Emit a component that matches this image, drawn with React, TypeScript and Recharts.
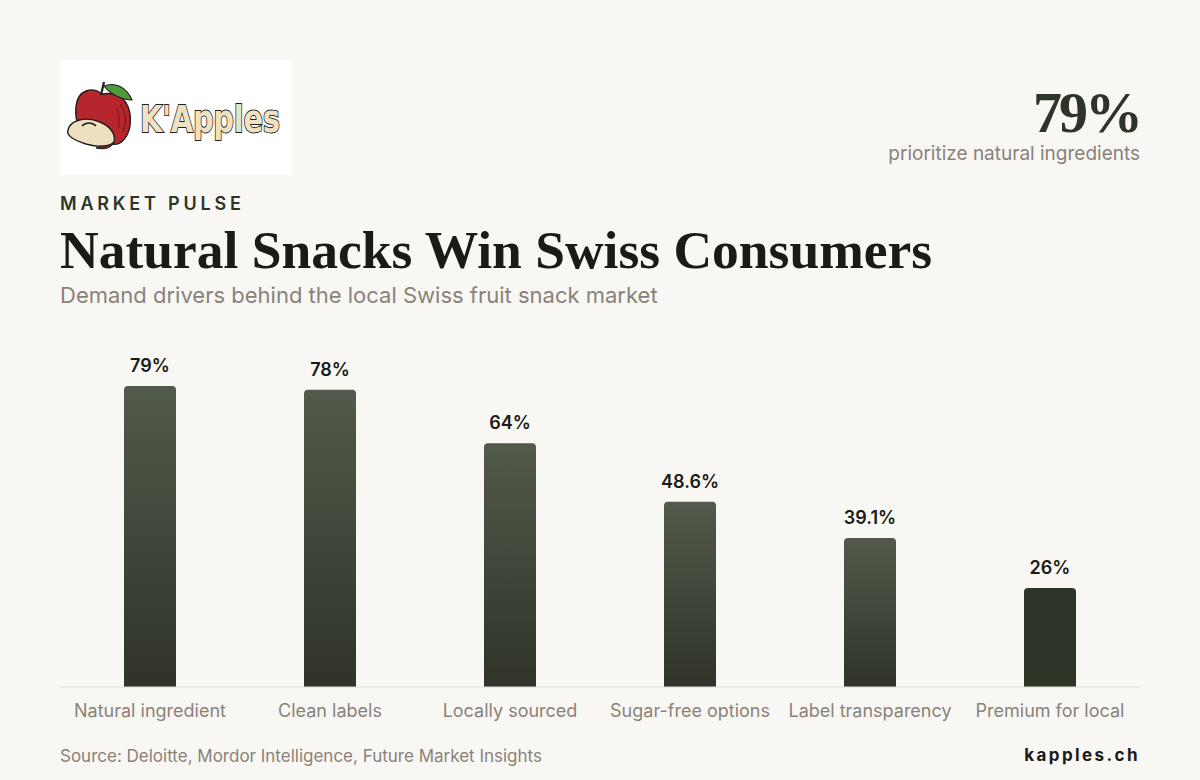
import { BarChart, Bar, XAxis, YAxis, Cell, LabelList } from 'recharts';

const categories = [
  'Natural ingredient',
  'Clean labels',
  'Locally sourced',
  'Sugar-free options',
  'Label transparency',
  'Premium for local',
];
const shares = [79, 78, 64, 48.6, 39.1, 26];

const data = categories.map((name, i) => ({ name, value: shares[i] }));

const BG = '#f8f7f3';
const INK = '#1b1a16';
const MUTED = '#8a827a';
const DARK_GREEN = '#2c3527';
const SERIF = "'Liberation Serif', 'DejaVu Serif', serif";

function Logo() {
  return (
    <div style={{ position: 'absolute', left: 60, top: 60, width: 232, height: 115, background: '#ffffff' }}>
      <svg width={232} height={115}>
        {/* apple body */}
        <path
          d="M42 34 C 32 26, 18 30, 16 46 C 14 62, 22 80, 36 84 C 42 86, 48 84, 52 84 C 60 86, 68 78, 70 66 C 72 50, 66 30, 42 34 Z"
          fill="#b8262d"
          stroke="#1f1f1f"
          strokeWidth={1.4}
        />
        <path d="M60 44 C 66 52, 67 62, 63 72" stroke="#6e1a1e" strokeWidth={1.2} fill="none" />
        <path d="M56 48 C 60 54, 60 62, 58 68" stroke="#6e1a1e" strokeWidth={1} fill="none" />
        {/* stem + leaf */}
        <path d="M41 35 L 44 22" stroke="#1f1f1f" strokeWidth={2.2} fill="none" />
        <path d="M44 26 C 54 22, 66 26, 72 40 C 62 40, 50 34, 44 26 Z" fill="#4f9a3a" stroke="#1f1f1f" strokeWidth={1.2} />
        {/* slice */}
        <path
          d="M8 70 C 10 60, 26 56, 40 62 C 50 66, 56 74, 54 82 C 50 88, 36 87, 26 84 C 14 80, 6 76, 8 70 Z"
          fill="#ede0c2"
          stroke="#1f1f1f"
          strokeWidth={1.4}
        />
        <path d="M54 82 C 52 88, 44 90, 36 88 L 40 86 C 48 86, 52 84, 54 82 Z" fill="#6e1a1c" stroke="#1f1f1f" strokeWidth={1} />
        <path d="M22 66 C 26 62, 32 62, 36 66" stroke="#1f1f1f" strokeWidth={1.6} fill="none" />
        <g transform="translate(80 72) scale(1 1.3)">
          <text
            x={0}
            y={0}
            fontFamily="'DejaVu Sans', sans-serif"
            fontWeight={700}
            fontSize={29}
            fill="#efe2c3"
            stroke="#222"
            strokeWidth={1.4}
            paintOrder="stroke"
            letterSpacing={-0.3}
          >
            K'Apples
          </text>
        </g>
      </svg>
    </div>
  );
}

export default function App() {
  return (
    <div
      style={{
        position: 'fixed',
        left: 0,
        top: 0,
        width: 1200,
        height: 780,
        background: BG,
        fontFamily: 'Inter, sans-serif',
        overflow: 'hidden',
      }}
    >
      <Logo />

      {/* headline stat */}
      <div
        style={{
          position: 'absolute',
          right: 60,
          top: 80,
          textAlign: 'right',
          fontFamily: SERIF,
          fontWeight: 700,
          fontSize: 58,
          lineHeight: '66px',
          color: DARK_GREEN,
          letterSpacing: -3,
        }}
      >
        79%
      </div>
      <div
        style={{ position: 'absolute', right: 60, top: 142, fontSize: 19, color: MUTED, lineHeight: '24px' }}
      >
        prioritize natural ingredients
      </div>

      <div
        style={{
          position: 'absolute',
          left: 60,
          top: 193,
          fontSize: 18,
          fontWeight: 600,
          letterSpacing: 3.8,
          color: DARK_GREEN,
          lineHeight: '22px',
        }}
      >
        MARKET PULSE
      </div>
      <div
        style={{
          position: 'absolute',
          left: 60,
          top: 218,
          fontFamily: SERIF,
          fontWeight: 700,
          fontSize: 53.5,
          lineHeight: '64px',
          color: INK,
        }}
      >
        Natural Snacks Win Swiss Consumers
      </div>
      <div
        style={{ position: 'absolute', left: 60, top: 281, fontSize: 22, color: MUTED, lineHeight: '28px' }}
      >
        Demand drivers behind the local Swiss fruit snack market
      </div>

      <div style={{ position: 'absolute', left: 60, top: 290 }}>
        <BarChart width={1080} height={437} data={data} margin={{ top: 16, right: 0, bottom: 0, left: 0 }}>
          <defs>
            <linearGradient id="barFade" x1="0" y1="0" x2="0" y2="1">
              <stop offset="0%" stopColor="#525a4b" />
              <stop offset="100%" stopColor="#2f3329" />
            </linearGradient>
          </defs>
          <YAxis hide domain={[0, 100]} />
          <XAxis
            dataKey="name"
            height={40}
            tickLine={false}
            tickSize={0}
            tickMargin={17}
            axisLine={{ stroke: '#e3e0d4', strokeWidth: 1 }}
            tick={{ fill: MUTED, fontSize: 18, fontFamily: 'Inter, sans-serif' }}
            interval={0}
          />
          <Bar dataKey="value" barSize={52} radius={[4, 4, 0, 0]} isAnimationActive={false}>
            {data.map((d, i) => (
              <Cell key={d.name} fill={i === data.length - 1 ? DARK_GREEN : 'url(#barFade)'} />
            ))}
            <LabelList
              dataKey="value"
              position="top"
              offset={14}
              formatter={(v: any) => `${v}%`}
              style={{ fill: INK, fontSize: 18, fontWeight: 600, fontFamily: 'Inter, sans-serif' }}
            />
          </Bar>
        </BarChart>
      </div>

      <div style={{ position: 'absolute', left: 60, top: 745, fontSize: 17, color: MUTED, lineHeight: '22px' }}>
        Source: Deloitte, Mordor Intelligence, Future Market Insights
      </div>
      <div
        style={{
          position: 'absolute',
          right: 60,
          top: 743,
          fontSize: 17,
          fontWeight: 700,
          letterSpacing: 2.4,
          color: INK,
          lineHeight: '24px',
        }}
      >
        kapples.ch
      </div>
    </div>
  );
}
